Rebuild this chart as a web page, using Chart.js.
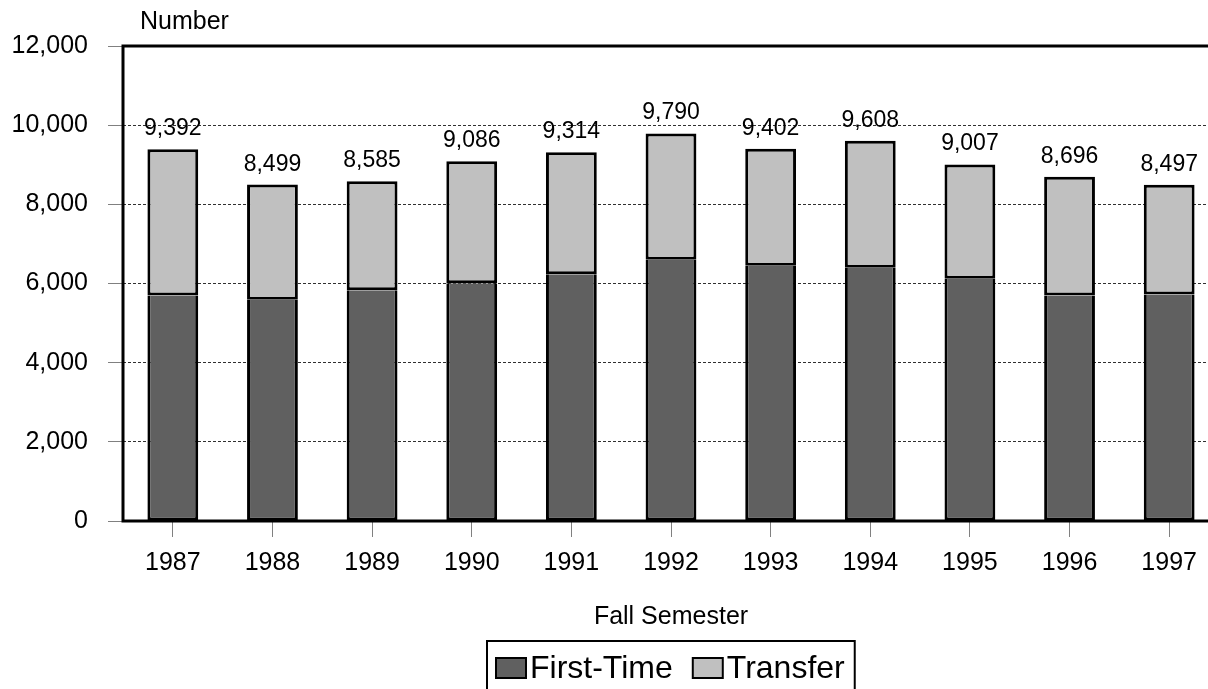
<!DOCTYPE html>
<html>
<head>
<meta charset="utf-8">
<script src="https://cdn.jsdelivr.net/npm/chart.js@4/dist/chart.umd.min.js"></script>
<style>
  html, body { margin: 0; padding: 0; background: #fff; overflow: hidden; }
  #wrap { width: 1220px; height: 689px; }
</style>
</head>
<body>
<div id="wrap"><canvas id="c" width="1220" height="689"></canvas></div>
<script>
const years = ['1987','1988','1989','1990','1991','1992','1993','1994','1995','1996','1997'];
const firstTime = [5696, 5587, 5831, 6008, 6236, 6599, 6447, 6397, 6118, 5696, 5722];
const transfer  = [3696, 2912, 2754, 3078, 3078, 3191, 2955, 3211, 2889, 3000, 2775];
const totals    = [9392, 8499, 8585, 9086, 9314, 9790, 9402, 9608, 9007, 8696, 8497];
const yTicks = [0, 2000, 4000, 6000, 8000, 10000, 12000];
const seriesNames = ['First-Time', 'Transfer'];
const seriesColors = ['#606060', '#c0c0c0'];

const FONT = '"Liberation Sans", Arial, sans-serif';

const framePlugin = {
  id: 'framePlugin',
  afterDatasetsDraw(chart) {
    const {ctx, chartArea: a} = chart;
    ctx.save();
    const meta = chart.getDatasetMeta(1);
    ctx.font = '23px ' + FONT;
    ctx.fillStyle = '#000';
    ctx.textAlign = 'center';
    ctx.textBaseline = 'alphabetic';
    meta.data.forEach((bar, i) => {
      ctx.fillText(totals[i].toLocaleString('en-US'), bar.x, bar.y - 14);
    });
    ctx.strokeStyle = '#000';
    ctx.lineWidth = 3;
    ctx.strokeRect(a.left, a.top, a.right - a.left, a.bottom - a.top);
    ctx.restore();
  },
  afterDraw(chart) {
    const {ctx, chartArea: a} = chart;
    ctx.save();
    ctx.font = '25px ' + FONT;
    ctx.fillStyle = '#000';
    ctx.textAlign = 'left';
    ctx.textBaseline = 'middle';
    ctx.fillText('Number', a.left + 17, 22);
    ctx.font = '32px ' + FONT;
    const w1 = ctx.measureText(seriesNames[0]).width;
    const w2 = ctx.measureText(seriesNames[1]).width;
    const padL = 9, sw = 30, sh = 20, gapT = 4, gapItem = 20, padR = 10;
    const total = padL + sw + gapT + w1 + gapItem + sw + gapT + w2 + padR;
    const cx = (a.left + a.right) / 2;
    const left = Math.round(cx - total / 2);
    const top = 641;
    ctx.strokeStyle = '#000';
    ctx.lineWidth = 2;
    ctx.strokeRect(left, top, total, 80);
    let x = left + padL;
    const base = 678;
    [0, 1].forEach(k => {
      ctx.fillStyle = seriesColors[k];
      ctx.fillRect(x, 658, sw, sh);
      ctx.lineWidth = 2;
      ctx.strokeStyle = '#000';
      ctx.strokeRect(x, 658, sw, sh);
      x += sw + gapT;
      ctx.fillStyle = '#000';
      ctx.textAlign = 'left';
      ctx.textBaseline = 'alphabetic';
      ctx.fillText(seriesNames[k], x, base);
      x += (k === 0 ? w1 : w2) + gapItem;
    });
    ctx.restore();
  }
};

new Chart(document.getElementById('c'), {
  type: 'bar',
  data: {
    labels: years,
    datasets: [
      {
        label: seriesNames[0],
        data: firstTime,
        backgroundColor: seriesColors[0],
        borderColor: '#000',
        borderWidth: 3,
        borderSkipped: 'end',
        barPercentage: 0.51,
        categoryPercentage: 1.0
      },
      {
        label: seriesNames[1],
        data: transfer,
        backgroundColor: seriesColors[1],
        borderColor: '#000',
        borderWidth: 3,
        borderSkipped: false,
        barPercentage: 0.51,
        categoryPercentage: 1.0
      }
    ]
  },
  options: {
    responsive: false,
    animation: false,
    devicePixelRatio: 1,
    layout: { padding: { top: 46, bottom: 57, left: 0, right: 1 } },
    plugins: {
      legend: { display: false },
      tooltip: { enabled: false }
    },
    scales: {
      x: {
        stacked: true,
        offset: true,
        grid: {
          display: true,
          offset: false,
          drawOnChartArea: false,
          drawTicks: true,
          tickLength: 16,
          tickColor: '#808080',
          tickWidth: 1
        },
        border: { display: false },
        ticks: {
          color: '#000',
          font: { family: FONT, size: 25 },
          padding: 11,
          maxRotation: 0,
          autoSkip: false
        },
        title: {
          display: true,
          text: 'Fall Semester',
          color: '#000',
          font: { family: FONT, size: 25 },
          padding: { top: 13, bottom: 0 }
        }
      },
      y: {
        stacked: true,
        min: 0,
        max: 12000,
        afterFit(scale) { scale.width = 123; },
        afterBuildTicks(scale) { scale.ticks = yTicks.map(v => ({ value: v })); },
        grid: {
          color: '#303030',
          lineWidth: 1,
          drawTicks: true,
          tickLength: 15,
          tickColor: '#808080',
          tickWidth: 1,
          tickBorderDash: []
        },
        border: { display: false, dash: [3, 2] },
        ticks: {
          color: '#000',
          font: { family: FONT, size: 25 },
          padding: 20,
          callback: v => Number(v).toLocaleString('en-US')
        }
      }
    }
  },
  plugins: [framePlugin]
});
</script>
</body>
</html>
